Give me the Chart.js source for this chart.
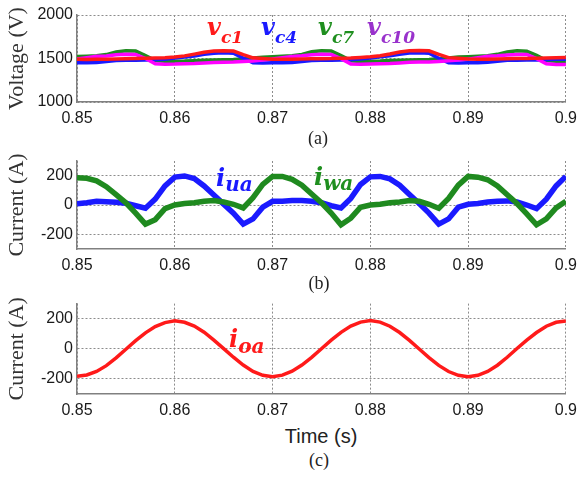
<!DOCTYPE html>
<html lang="en">
<head>
    <meta charset="UTF-8" />
    <title>Capacitor voltages and arm currents</title>
    <script src="https://cdn.jsdelivr.net/npm/chart.js"></script>
    <style>
        body { margin: 0; background: #fff; }
        #wrap { position: relative; width: 584px; height: 478px; overflow: hidden; }
        .box { position: absolute; left: 0; width: 584px; height: 130px; }
        .cap { position: absolute; font-family: 'Liberation Serif', serif; font-size: 18px; line-height: 20px; color: #222; transform: translateX(-50%); white-space: nowrap; }
        .xt { font-family: 'Liberation Sans', Arial, sans-serif; font-size: 20px; }
        .tag { position: absolute; font-family: 'DejaVu Serif', serif; font-weight: bold; font-style: italic; font-size: 24px; line-height: 24px; white-space: nowrap; }
        .tag sub { line-height: 0; }
    </style>
</head>
<body>
<div id="wrap">
    <div class="box" style="top:0"><canvas id="chartA"></canvas></div>
    <div class="box" style="top:145px"><canvas id="chartB"></canvas></div>
    <div class="box" style="top:290px"><canvas id="chartC"></canvas></div>

    <div class="tag" style="left:207px;top:15px;color:#ff1a1a">v<sub style="font-size:17px;vertical-align:-8px">c1</sub></div>
    <div class="tag" style="left:261px;top:15px;color:#1a1aff">v<sub style="font-size:17px;vertical-align:-8px">c4</sub></div>
    <div class="tag" style="left:318px;top:15px;color:#1f8f1f">v<sub style="font-size:17px;vertical-align:-8px">c7</sub></div>
    <div class="tag" style="left:367px;top:15px;color:#9932cc">v<sub style="font-size:17px;vertical-align:-8px">c10</sub></div>

    <div class="tag" style="left:216px;top:166px;color:#1a1aff">i<sub style="font-size:20px;vertical-align:-5px">ua</sub></div>
    <div class="tag" style="left:314px;top:165px;color:#1f8f1f">i<sub style="font-size:20px;vertical-align:-5px">wa</sub></div>
    <div class="tag" style="left:229px;top:327px;color:#ff1a1a">i<sub style="font-size:20px;vertical-align:-6px">oa</sub></div>

    <div class="cap" style="left:318px;top:128px">(a)</div>
    <div class="cap" style="left:319px;top:273px">(b)</div>
    <div class="cap xt" style="left:321px;top:426px">Time (s)</div>
    <div class="cap" style="left:319px;top:450px">(c)</div>
</div>

<script>
    // sample instants (s)
    const timeS = [
        0.850, 0.851, 0.852, 0.853, 0.854, 0.855, 0.856, 0.857, 0.858, 0.859,
        0.860, 0.861, 0.862, 0.863, 0.864, 0.865, 0.866, 0.867, 0.868, 0.869,
        0.870, 0.871, 0.872, 0.873, 0.874, 0.875, 0.876, 0.877, 0.878, 0.879,
        0.880, 0.881, 0.882, 0.883, 0.884, 0.885, 0.886, 0.887, 0.888, 0.889,
        0.890, 0.891, 0.892, 0.893, 0.894, 0.895, 0.896, 0.897, 0.898, 0.899,
        0.900
    ];

    // (a) submodule capacitor voltages (V)
    const vC1 = [
        1490, 1488, 1490, 1492, 1495, 1497, 1500, 1502, 1505, 1510,
        1518, 1530, 1550, 1572, 1585, 1590, 1586, 1545, 1508, 1500,
        1492, 1490, 1491, 1494, 1496, 1498, 1499, 1503, 1506, 1512,
        1520, 1532, 1552, 1575, 1588, 1592, 1588, 1548, 1510, 1502,
        1494, 1490, 1492, 1494, 1497, 1499, 1501, 1503, 1506, 1510,
        1512
    ];
    const vC4 = [
        1452, 1452, 1455, 1466, 1478, 1480, 1480, 1482, 1485, 1492,
        1505, 1518, 1530, 1548, 1560, 1565, 1560, 1505, 1452, 1448,
        1450, 1451, 1454, 1465, 1477, 1480, 1481, 1483, 1486, 1494,
        1506, 1520, 1532, 1550, 1562, 1566, 1561, 1503, 1450, 1447,
        1450, 1452, 1456, 1467, 1479, 1480, 1482, 1483, 1486, 1490,
        1492
    ];
    const vC7 = [
        1522, 1526, 1532, 1545, 1575, 1588, 1585, 1535, 1476, 1467,
        1468, 1470, 1475, 1480, 1482, 1485, 1488, 1495, 1505, 1515,
        1520, 1527, 1533, 1547, 1577, 1590, 1586, 1533, 1475, 1466,
        1469, 1471, 1476, 1479, 1483, 1486, 1489, 1496, 1506, 1516,
        1521, 1525, 1531, 1548, 1576, 1589, 1584, 1536, 1477, 1467,
        1466
    ];
    const vC10 = [
        1495, 1510, 1525, 1530, 1542, 1548, 1546, 1500, 1440, 1435,
        1436, 1440, 1442, 1448, 1455, 1458, 1460, 1465, 1472, 1482,
        1494, 1508, 1524, 1531, 1543, 1549, 1545, 1498, 1438, 1434,
        1437, 1441, 1443, 1449, 1456, 1459, 1461, 1466, 1473, 1483,
        1493, 1509, 1526, 1532, 1541, 1547, 1546, 1499, 1439, 1432,
        1430
    ];

    // (b) arm currents (A)
    const iUa = [
        8, 15, 25, 22, 18, 12, -5, -22, 40, 130,
        190, 198, 180, 130, 68, 6, -56, -130, -95, -15,
        25, 25, 30, 30, 25, 15, -5, -20, 45, 140,
        192, 195, 178, 135, 72, 10, -55, -130, -95, -15,
        5, 10, 20, 25, 28, 20, 0, -25, 40, 130,
        195
    ];
    const iWa = [
        185, 182, 165, 125, 70, 15, -55, -130, -100, -25,
        0, 10, 15, 25, 30, 20, 5, -20, 50, 140,
        195, 195, 175, 135, 75, 15, -55, -135, -90, -15,
        0, 5, 15, 20, 30, 25, 5, -22, 45, 135,
        195, 190, 172, 130, 70, 10, -60, -135, -95, -20,
        25
    ];

    // (c) output current (A)
    const iOa = [
        -182, -174, -150, -112, -60, -3, 54, 106, 148, 174,
        186, 176, 151, 110, 58, 1, -56, -108, -150, -176,
        -185, -175, -149, -108, -57, 0, 57, 109, 151, 177,
        187, 177, 150, 108, 56, -1, -58, -110, -151, -176,
        -186, -176, -150, -109, -56, 2, 58, 108, 150, 176,
        185
    ];

    const xTicks = [0.85, 0.86, 0.87, 0.88, 0.89, 0.9];
    const xTickLabels = ['0.85', '0.86', '0.87', '0.88', '0.89', '0.9'];
    const vTicks = [1000, 1500, 2000];
    const vTickLabels = ['1000', '1500', '2000'];
    const iTicks = [-200, 0, 200];
    const iTickLabels = ['-200', '0', '200'];

    const tickFont = { family: "'Liberation Sans', Arial, sans-serif", size: 16 };
    const titleFont = { family: "'Liberation Serif', 'Times New Roman', serif", size: 22 };

    function pts(values) {
        return values.map((v, i) => ({ x: timeS[i], y: v }));
    }

    function line(values, color, width) {
        return { data: pts(values), borderColor: color, borderWidth: width, pointRadius: 0, tension: 0, fill: false };
    }

    function makeChart(id, datasets, yMin, yMax, yTicks, yLabels, yTitle, padTop, axisH) {
        return new Chart(document.getElementById(id), {
            type: 'line',
            data: { datasets: datasets },
            options: {
                responsive: true,
                maintainAspectRatio: false,
                animation: false,
                events: [],
                layout: { padding: { top: padTop, right: 12, bottom: 0, left: 0 } },
                plugins: { legend: { display: false }, tooltip: { enabled: false } },
                scales: {
                    x: {
                        type: 'linear',
                        min: 0.85,
                        max: 0.9,
                        afterBuildTicks: (s) => { s.ticks = xTicks.map(v => ({ value: v })); },
                        afterFit: (s) => { s.height = axisH; },
                        ticks: { callback: (v, i) => xTickLabels[i], font: tickFont, color: '#1a1a1a', padding: 7, maxRotation: 0, autoSkip: false },
                        grid: { color: '#8c8c8c', lineWidth: 1, drawTicks: false },
                        border: { color: '#808080', width: 1.5, dash: [2, 2] }
                    },
                    y: {
                        min: yMin,
                        max: yMax,
                        afterBuildTicks: (s) => { s.ticks = yTicks.map(v => ({ value: v })); },
                        afterFit: (s) => { s.width = 77; },
                        ticks: { callback: (v, i) => yLabels[i], font: tickFont, color: '#1a1a1a', padding: 4, autoSkip: false },
                        grid: { color: '#8c8c8c', lineWidth: 1, drawTicks: false },
                        border: { color: '#808080', width: 1.5, dash: [2, 2] },
                        title: { display: true, text: yTitle, font: titleFont, color: '#333' }
                    }
                }
            }
        });
    }

    makeChart('chartA', [
        line(vC1, '#ff1a1a', 3.5),
        line(vC10, '#ff00ff', 3.5),
        line(vC4, '#1a1aff', 3.5),
        line(vC7, '#1f8a1f', 3.5)
    ], 1000, 2000, vTicks, vTickLabels, 'Voltage (V)', 15, 28);

    makeChart('chartB', [
        line(iWa, '#1f8a1f', 5.5),
        line(iUa, '#1a1aff', 5.5)
    ], -300, 300, iTicks, iTickLabels, 'Current (A)', 16, 26);

    makeChart('chartC', [
        line(iOa, '#ff1a1a', 3.5)
    ], -300, 300, iTicks, iTickLabels, 'Current (A)', 13, 26);
</script>
</body>
</html>
